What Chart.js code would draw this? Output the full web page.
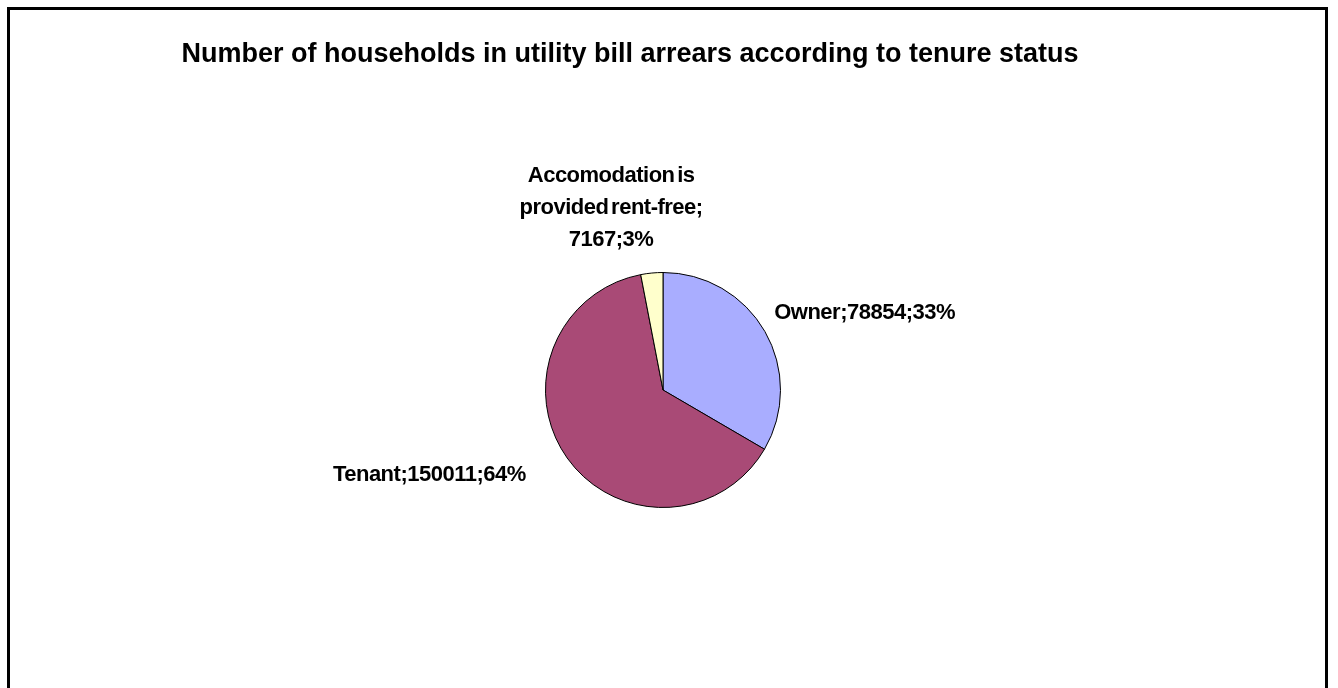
<!DOCTYPE html>
<html>
<head>
<meta charset="utf-8">
<script src="https://cdn.jsdelivr.net/npm/chart.js@4.4.1/dist/chart.umd.min.js"></script>
<style>
  html, body { margin: 0; padding: 0; background: #ffffff; overflow: hidden; }
  #wrap { position: relative; width: 1338px; height: 688px; }
  #frame {
    position: absolute; left: 7px; top: 7px; width: 1315px; height: 700px;
    border: 3px solid #000000; border-bottom: none;
  }
  #chart { position: absolute; left: 0; top: 0; }
</style>
</head>
<body>
<div id="wrap">
  <div id="frame"></div>
  <canvas id="chart" width="1338" height="688"></canvas>
</div>
<script>
// --- data ---
const titleText = 'Number of households in utility bill arrears according to tenure status';
const categories = ['Owner', 'Tenant', 'Accomodation is provided rent-free'];
const labelLines = [
    ['Owner;78854;33%'],
    ['Tenant;150011;64%'],
    ['Accomodation is', 'provided rent-free;', '7167;3%']
];
const households = [78854, 150011, 7167];
const sliceColors = ['#a9adff', '#a94a76', '#ffffcc'];

// label placement tweaks (dx, dy from the radial anchor, last line baseline)
const labelNudge = [[-6, -4], [-27, 13], [-39, -9]];

// title + outside labels, drawn after the pie
const labelPlugin = {
    id: 'excelLabels',
    afterDraw(chart) {
        const ctx = chart.ctx;
        ctx.save();
        ctx.fillStyle = '#000000';
        ctx.font = 'bold 27px "Liberation Sans", Arial, sans-serif';
        ctx.textAlign = 'center';
        ctx.textBaseline = 'alphabetic';
        ctx.fillText(titleText, 630, 62);

        ctx.font = 'bold 22px "Liberation Sans", Arial, sans-serif';
        ctx.letterSpacing = '-0.5px';
        ctx.wordSpacing = '-3px';
        const arcs = chart.getDatasetMeta(0).data;
        arcs.forEach((arc, i) => {
            const mid = (arc.startAngle + arc.endAngle) / 2;
            const r = arc.outerRadius * 1.15;
            const ax = arc.x + Math.cos(mid) * r + labelNudge[i][0];
            const ay = arc.y + Math.sin(mid) * r + labelNudge[i][1];
            const lines = labelLines[i];
            const lh = 32;
            let align = 'center';
            if (Math.cos(mid) > 0.3) align = 'left';
            else if (Math.cos(mid) < -0.3) align = 'right';
            ctx.textAlign = align;
            const top = ay - (lines.length - 1) * lh;
            lines.forEach((line, k) => ctx.fillText(line, ax, top + k * lh));
        });
        ctx.restore();
    }
};

new Chart(document.getElementById('chart'), {
    type: 'pie',
    data: {
        labels: categories,
        datasets: [{
            data: households,
            backgroundColor: sliceColors,
            borderColor: '#000000',
            borderWidth: 1
        }]
    },
    options: {
        responsive: false,
        animation: false,
        layout: { padding: { top: 272, bottom: 180, left: 400, right: 412 } },
        plugins: {
            legend: { display: false },
            tooltip: { enabled: false },
            title: { display: false }
        }
    },
    plugins: [labelPlugin]
});
</script>
</body>
</html>
